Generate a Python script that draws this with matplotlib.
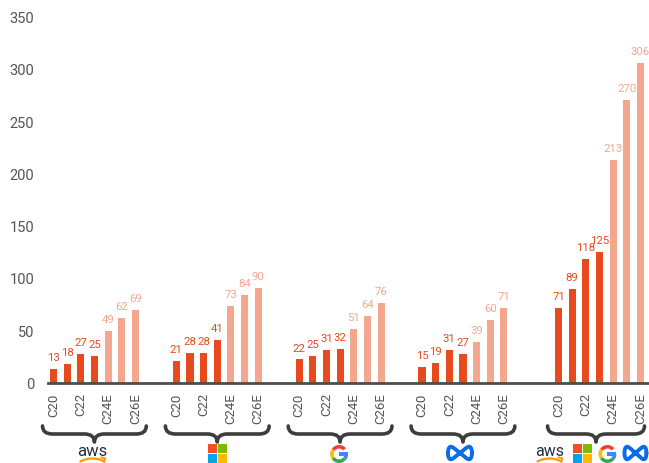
import numpy as np
import matplotlib
matplotlib.use('Agg')
import matplotlib.pyplot as plt
from matplotlib.path import Path
from matplotlib.patches import PathPatch, Rectangle, Wedge

# data
periods = ['C20', 'C21', 'C22', 'C23', 'C24E', 'C25E', 'C26E']
is_estimate = [False, False, False, False, True, True, True]
companies = ['aws', 'msft', 'google', 'meta', 'total']
aws = [13, 18, 27, 25, 49, 62, 69]
msft = [21, 28, 28, 41, 73, 84, 90]
google = [22, 25, 31, 32, 51, 64, 76]
meta = [15, 19, 31, 27, 39, 60, 71]
total = [71, 89, 118, 125, 213, 270, 306]
shown_ticks = ['C20', 'C22', 'C24E', 'C26E']
yticks = [0, 50, 100, 150, 200, 250, 300, 350]

series = [aws, msft, google, meta, total]
group_start = [0, 9, 18, 27, 37]  # slot where each group begins

dark = '#E84A1F'
light = '#F5A68F'
grey = '#555555'

plt.rcParams['font.family'] = ['Roboto', 'DejaVu Sans']

fig = plt.figure(figsize=(6.49, 4.64), dpi=100)
ax = fig.add_axes([48/649, (464-383.5)/464, 1-48/649, (383.5-17.5)/464])

tick_pos = []
tick_lab = []
for g, vals in zip(group_start, series):
    for i, v in enumerate(vals):
        x = g + i
        c = light if is_estimate[i] else dark
        ax.bar(x, v, width=0.52, color=c, zorder=2)
        ax.annotate(str(v), (x, v), xytext=(0, 5), textcoords='offset points',
                    ha='center', va='bottom', color=c, fontsize=8.2)
        if periods[i] in shown_ticks:
            tick_pos.append(x)
            tick_lab.append(periods[i])

ax.set_xlim(-0.4, 43.63)
ax.set_ylim(0, 350)
ax.set_yticks(yticks)
ax.set_xticks(tick_pos)
ax.set_xticklabels(tick_lab, rotation=90)
ax.tick_params(axis='y', length=0, pad=10, labelsize=10.5, labelcolor=grey)
ax.tick_params(axis='x', length=0, pad=7, labelsize=9.5, labelcolor=grey)
for s in ['top', 'right', 'left']:
    ax.spines[s].set_visible(False)
ax.spines['bottom'].set_color('#4d4d4d')
ax.spines['bottom'].set_linewidth(2)
ax.spines['bottom'].set_zorder(3)

# overlay in pixel coordinates for braces and logos
ov = fig.add_axes([0, 0, 1, 1], zorder=5)
ov.set_xlim(0, 649)
ov.set_ylim(0, 464)
ov.axis('off')
ov.patch.set_alpha(0)


def px(slot):
    return ax.transData.transform((slot, 0))[0]


def Y(py):
    return 464 - py


def brace(x0, x1, ytop=427, ybody=435, ytip=443, r=10):
    xm = (x0 + x1) / 2
    verts = [(x0, Y(ytop)), (x0, Y(ybody)), (x0 + r, Y(ybody)),
             (xm - r, Y(ybody)), (xm, Y(ybody)), (xm, Y(ytip)),
             (xm, Y(ybody)), (xm + r, Y(ybody)),
             (x1 - r, Y(ybody)), (x1, Y(ybody)), (x1, Y(ytop))]
    codes = [Path.MOVETO, Path.CURVE3, Path.CURVE3,
             Path.LINETO, Path.CURVE3, Path.CURVE3,
             Path.CURVE3, Path.CURVE3,
             Path.LINETO, Path.CURVE3, Path.CURVE3]
    ov.add_patch(PathPatch(Path(verts, codes), fill=False, lw=2.6,
                           ec='#3d3d3d', capstyle='round', joinstyle='round'))


def aws_logo(cx, size=12):
    ov.text(cx, Y(452), 'aws', ha='center', va='center', fontsize=size,
            color='#232F3E')
    t = np.linspace(-1, 1, 30)
    ov.plot(cx + 12 * t, Y(459.5) + 3 * (1 - t**2) - 3, color='#FF9900', lw=1.6,
            solid_capstyle='round')
    ov.plot([cx + 9, cx + 13, cx + 11.5], [Y(458.5), Y(459.5), Y(462.5)],
            color='#FF9900', lw=1.4)


def ms_logo(cx, top=445, s=9, gap=1):
    cols = ['#F25022', '#7FBA00', '#00A4EF', '#FFB900']
    for k, c in enumerate(cols):
        col, row = k % 2, k // 2
        x0 = cx - s - gap / 2 + col * (s + gap)
        y0 = top + row * (s + gap)
        ov.add_patch(Rectangle((x0, Y(y0 + s)), s, s, color=c, lw=0))


def g_logo(cx, cy=455, R=9, w=3.6):
    c0 = (cx, Y(cy))
    ov.add_patch(Wedge(c0, R, 40, 145, width=w, color='#EA4335', lw=0))
    ov.add_patch(Wedge(c0, R, 145, 215, width=w, color='#FBBC05', lw=0))
    ov.add_patch(Wedge(c0, R, 215, 320, width=w, color='#34A853', lw=0))
    ov.add_patch(Wedge(c0, R, 320, 360, width=w, color='#4285F4', lw=0))
    ov.add_patch(Rectangle((cx - 0.5, Y(cy) - w / 2 + 0.3), R + 0.5, w - 0.4,
                           color='#4285F4', lw=0))


def meta_logo(cx, cy=454, a=12, h=14):
    t = np.linspace(0, 2 * np.pi, 300)
    ov.plot(cx + a * np.cos(t), Y(cy) + h * np.sin(2 * t) / 2 * (0.6 + 0.4 * np.abs(np.cos(t))),
            color='#0A6CE6', lw=2.8, solid_capstyle='round')


ends = [6.8, 6.8, 6.8, 6.8, 6.3]
for g, e in zip(group_start, ends):
    brace(px(g - 0.8), px(g + e))

centers = [px(g + 3) for g in group_start]
aws_logo(centers[0] - 2)
ms_logo(centers[1])
g_logo(centers[2] - 1)
meta_logo(centers[3] - 3)

c = centers[4]
aws_logo(c - 50, size=11.5)
ms_logo(c - 17)
g_logo(c + 8)
meta_logo(c + 36, a=11)

fig.savefig('out.png', dpi=100)
